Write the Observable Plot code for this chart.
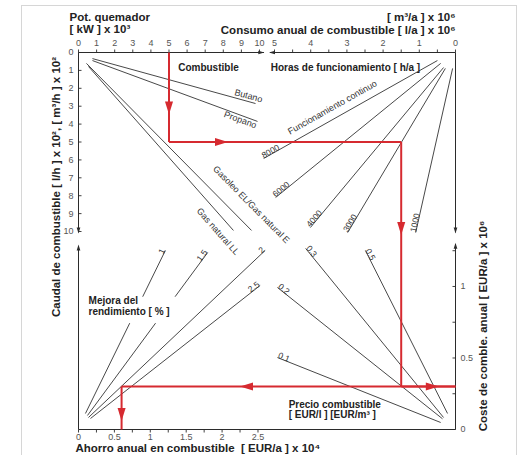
<!DOCTYPE html>
<html>
<head>
<meta charset="utf-8">
<script src="https://cdn.jsdelivr.net/npm/d3@7"></script>
<script src="https://cdn.jsdelivr.net/npm/@observablehq/plot@0.6"></script>
<style>
  html,body{margin:0;padding:0;background:#fff;}
  #wrap{position:relative;width:522px;height:455px;overflow:hidden;}
  #border{position:absolute;left:21px;top:5px;width:496px;height:470px;border:1px solid #d6d6d6;box-sizing:border-box;}
  #chart{position:absolute;left:0;top:0;}
</style>
</head>
<body>
<div id="wrap"><div id="border"></div><div id="chart"></div></div>
<script>
// ---------- axis ticks ----------
const kwTicks = [0,1,2,3,4,5,6,7,8,9,10];               // Pot. quemador [kW] x10^3
const flowTicks = [0,1,2,3,4,5,6,7,8,9,10];             // Caudal [l/h] x10^2
const consTicks = [5,4,3,2,1,0];                        // Consumo anual x10^6
const consMinorTicks = [5,4.5,4,3.5,3,2.5,2,1.5,1,0.5,0];
const costTicks = [0,0.5,1];                            // Coste anual x10^6
const costMinorTicks = [0,0.25,0.5,0.75,1,1.25];
const savTicks = [0,0.5,1,1.5,2,2.5];                   // Ahorro anual x10^4
const savMinorTicks = [0,0.25,0.5,0.75,1,1.25,1.5,1.75,2,2.25,2.5];

// ---------- Combustible lines (kW x10^3, flow x10^2) ----------
const fuelNames = ["Butano","Propano","Gasoleo EL/Gas natural E","Gas natural LL"];
const fuelKw1   = [0.77, 0.77, 0.44, 0.55];
const fuelFlow1 = [0.34, 0.45, 0.61, 0.78];
const fuelKw2   = [9.78, 9.89, 9.56, 8.56];
const fuelFlow2 = [2.85, 3.85, 9.94, 9.94];

// ---------- Horas de funcionamiento lines (consumption x10^6, flow x10^2) ----------
const hours      = [8000, 6000, 4000, 3000, 1000];
const hoursCons1 = [0.50, 0.41, 0.33, 0.28, 0.08];
const hoursFlow1 = [0.45, 0.61, 0.84, 0.89, 0.89];
const hoursCons2 = [5.30, 4.97, 4.01, 2.98, 1.10];
const hoursFlow2 = [5.92, 8.10, 9.78, 10.06, 10.06];

// ---------- Precio combustible lines (consumption x10^6, cost x10^6) ----------
const prices     = ["0.1","0.2","0.3","0.5"];
const priceCons1 = [4.92, 4.92, 4.14, 2.49];
const priceCost1 = [0.503, 0.993, 1.266, 1.252];
const priceCons2 = [0.41, 0.36, 0.33, 0.22];
const priceCost2 = [0.049, 0.075, 0.084, 0.112];

// ---------- Mejora del rendimiento lines (savings x10^4, cost x10^6) ----------
const gains     = ["1","1.5","2","2.5"];
const gainSav1  = [0.097, 0.125, 0.139, 0.167];
const gainCost1 = [0.112, 0.098, 0.084, 0.077];
const gainSav2  = [1.21, 1.80, 2.60, 2.53];
const gainCost2 = [1.252, 1.238, 1.252, 1.007];

// ---------- worked example (red path) ----------
const exKw = 5, exFlow = 5, exCons = 1.5, exCost = 0.3, exSav = 0.6;

// ---------- scales ----------
const FONT = "'Liberation Sans', Arial, sans-serif";
const W = 522, H = 455, mL = 78, mR = 67, mT = 52, mB = 26;
const xDomain = [0, 20.83];   // primary x: burner power
const yDomain = [0, 21.06];   // primary y: fuel flow (downwards)
const consToX = d3.scaleLinear([0, 5], [20.83, 10.83]);
const costToY = d3.scaleLinear([0, 1], [21.06, 13.07]);
const savToX  = d3.scaleLinear([0, 2.5], [0, 9.917]);
const px = d3.scaleLinear(xDomain, [mL, W - mR]);
const py = d3.scaleLinear(yDomain, [mT, H - mB]);
const ang = (a, b) => Math.atan2(py(b[1]) - py(a[1]), px(b[0]) - px(a[0])) * 180 / Math.PI;

const fuelSegs = fuelNames.map((name, i) => ({name, a: [fuelKw1[i], fuelFlow1[i]], b: [fuelKw2[i], fuelFlow2[i]]}));
const hourSegs = hours.map((h, i) => ({name: String(h), a: [consToX(hoursCons1[i]), hoursFlow1[i]], b: [consToX(hoursCons2[i]), hoursFlow2[i]]}));
const priceSegs = prices.map((p, i) => ({name: p, a: [consToX(priceCons1[i]), costToY(priceCost1[i])], b: [consToX(priceCons2[i]), costToY(priceCost2[i])]}));
const gainSegs = gains.map((g, i) => ({name: g, a: [savToX(gainSav1[i]), costToY(gainCost1[i])], b: [savToX(gainSav2[i]), costToY(gainCost2[i])]}));
const allSegs = [...fuelSegs, ...hourSegs, ...priceSegs, ...gainSegs];

// axis lines (with breaks)
const axisLines = [
  {x1: 0, y1: 0, x2: 10.25, y2: 0},
  {x1: consToX(5.12), y1: 0, x2: consToX(0), y2: 0},
  {x1: 0, y1: 0, x2: 0, y2: 10.05},
  {x1: 0, y1: 10.8, x2: 0, y2: costToY(0)},
  {x1: consToX(0), y1: 0, x2: consToX(0), y2: 10.05},
  {x1: consToX(0), y1: 10.7, x2: consToX(0), y2: costToY(0)},
  {x1: 0, y1: costToY(0), x2: consToX(0), y2: costToY(0)}
];
const axisArrows = [
  {x: 10.1, y: 0, r: 90},
  {x: consToX(5.07), y: 0, r: -90},
  {x: 0, y: 9.95, r: 180},
  {x: 0, y: 10.9, r: 0},
  {x: consToX(0), y: 9.95, r: 180},
  {x: consToX(0), y: 10.8, r: 0}
];

// red path
const red = "#d62a30";
const redSegs = [
  {x1: exKw, y1: 0, x2: exKw, y2: exFlow},
  {x1: exKw, y1: exFlow, x2: consToX(exCons), y2: exFlow},
  {x1: consToX(exCons), y1: exFlow, x2: consToX(exCons), y2: costToY(exCost)},
  {x1: consToX(exCons), y1: costToY(exCost), x2: consToX(0), y2: costToY(exCost)},
  {x1: consToX(0), y1: costToY(exCost), x2: savToX(exSav), y2: costToY(exCost)},
  {x1: savToX(exSav), y1: costToY(exCost), x2: savToX(exSav), y2: costToY(0)}
];
const redArrows = [
  {x: exKw, y: 3.1, r: 180},
  {x: 7.9, y: exFlow, r: 90},
  {x: consToX(exCons), y: 9.83, r: 180},
  {x: consToX(0.64), y: costToY(exCost), r: 90},
  {x: savToX(2.34), y: costToY(exCost), r: -90},
  {x: savToX(exSav), y: costToY(0.105), r: 180}
];

const tickSym = {draw(ctx, size) { const r = Math.sqrt(size / Math.PI); ctx.moveTo(0, 0); ctx.lineTo(0, -r); }};
const arrowSym = {draw(ctx, size) { const r = Math.sqrt(size / Math.PI); ctx.moveTo(0, -r); ctx.lineTo(0.62 * r, r); ctx.lineTo(-0.62 * r, r); ctx.closePath(); }};

const ink = "#2b2b2b", tickInk = "#555";
const tk = {r: 3, symbol: tickSym, stroke: ink, fill: "none", strokeWidth: 0.9};
const tl = {fontSize: 9, fill: tickInk, lineAnchor: "middle"};
const titleStyle = {fontSize: 11.5, fill: "#222", fontWeight: 600, lineAnchor: "middle"};

const plot = Plot.plot({
  width: W, height: H,
  marginLeft: mL, marginRight: mR, marginTop: mT, marginBottom: mB,
  x: {domain: xDomain, axis: null},
  y: {domain: yDomain, reverse: true, axis: null},
  style: {background: "none", fontFamily: FONT, overflow: "visible"},
  marks: [
    // axes
    Plot.link(axisLines, {x1: "x1", y1: "y1", x2: "x2", y2: "y2", stroke: ink, strokeWidth: 1}),
    Plot.dot(axisArrows, {x: "x", y: "y", rotate: "r", r: 3, symbol: arrowSym, fill: ink, stroke: "none"}),
    Plot.dot(kwTicks, {x: d => d, y: 0, rotate: 0, ...tk}),
    Plot.dot(consMinorTicks, {x: d => consToX(d), y: 0, rotate: 0, ...tk}),
    Plot.dot(flowTicks, {x: 0, y: d => d, rotate: 90, ...tk}),
    Plot.dot(costMinorTicks, {x: consToX(0), y: d => costToY(d), rotate: -90, ...tk}),
    Plot.dot(savMinorTicks, {x: d => savToX(d), y: costToY(0), rotate: 180, ...tk}),
    Plot.text(kwTicks, {x: d => d, y: 0, dy: -9, text: d => String(d), ...tl}),
    Plot.text(consTicks, {x: d => consToX(d), y: 0, dy: -9, text: d => String(d), ...tl}),
    Plot.text(flowTicks, {x: 0, y: d => d, dx: -5, textAnchor: "end", text: d => String(d), ...tl}),
    Plot.text(costTicks, {x: consToX(0), y: d => costToY(d), dx: 5, textAnchor: "start", text: d => String(d), ...tl}),
    Plot.text(savTicks, {x: d => savToX(d), y: costToY(0), dy: 8, text: d => String(d), ...tl}),

    // axis titles
    Plot.text(["Pot. quemador"], {text: d => d, frameAnchor: "top-left", textAnchor: "start", dx: -9, dy: -35, ...titleStyle}),
    Plot.text(["[ kW ] x 10³"], {text: d => d, frameAnchor: "top-left", textAnchor: "start", dx: -9, dy: -23, ...titleStyle}),
    Plot.text(["[ m³/a ] x 10⁶"], {text: d => d, frameAnchor: "top-right", textAnchor: "end", dy: -35, ...titleStyle}),
    Plot.text(["Consumo anual de combustible [ l/a ] x 10⁶"], {text: d => d, frameAnchor: "top-right", textAnchor: "end", dy: -22, ...titleStyle}),
    Plot.text(["Caudal de combustible [ l/h ] x 10², [ m³/h ] x 10²"], {text: d => d, frameAnchor: "left", textAnchor: "middle", rotate: -90, dx: -22, dy: -54, ...titleStyle}),
    Plot.text(["Coste de comble. anual [ EUR/a ] x 10⁶"], {text: d => d, frameAnchor: "right", textAnchor: "middle", rotate: -90, dx: 28, dy: 85, ...titleStyle}),
    Plot.text(["Ahorro anual en combustible  [ EUR/a ] x 10⁴"], {text: d => d, frameAnchor: "bottom-left", textAnchor: "start", dx: -3, dy: 19, ...titleStyle}),

    // nomogram lines
    Plot.link(allSegs, {x1: d => d.a[0], y1: d => d.a[1], x2: d => d.b[0], y2: d => d.b[1], stroke: "#333", strokeWidth: 0.9}),

    // label box (breaks the efficiency lines)
    Plot.rect([0], {x1: savToX(0.10), x2: savToX(1.37), y1: costToY(0.925), y2: costToY(0.74), fill: "white"}),

    // group labels
    Plot.text(["Combustible"], {text: d => d, x: 7.18, y: 0.84, fontSize: 10, fontWeight: 600, fill: "#222"}),
    Plot.text(["Horas de funcionamiento [ h/a ]"], {text: d => d, x: consToX(3.04), y: 0.84, fontSize: 10, fontWeight: 600, fill: "#222"}),
    Plot.text(["Mejora del\nrendimiento [ % ]"], {text: d => d, x: savToX(0.14), y: costToY(0.93), textAnchor: "start", lineAnchor: "top", lineHeight: 1.1, fontSize: 10, fontWeight: 600, fill: "#222"}),
    Plot.text(["Precio combustible\n[ EUR/l ] [EUR/m³ ]"], {text: d => d, x: consToX(4.61), y: costToY(0.205), textAnchor: "start", lineAnchor: "top", lineHeight: 1.05, fontSize: 10, fontWeight: 600, fill: "#222"}),

    // line labels
    Plot.text(hourSegs, {x: d => d.b[0], y: d => d.b[1], text: "name", rotate: d => ang(d.b, d.a), textAnchor: "start", lineAnchor: "bottom", fontSize: 8.5, fill: "#333"}),
    Plot.text(priceSegs, {x: d => d.a[0], y: d => d.a[1], text: "name", rotate: d => ang(d.a, d.b), textAnchor: "start", lineAnchor: "bottom", fontSize: 8.5, fill: "#333"}),
    Plot.text(gainSegs, {x: d => d.b[0], y: d => d.b[1], text: "name", rotate: d => ang(d.a, d.b), textAnchor: "end", lineAnchor: "bottom", fontSize: 8.5, fill: "#333"}),
    Plot.text([fuelSegs[0]], {x: d => d.b[0], y: d => d.b[1], text: "name", rotate: d => ang(d.a, d.b), textAnchor: "end", lineAnchor: "bottom", dx: 6, dy: -1, fontSize: 9, fill: "#333"}),
    Plot.text([fuelSegs[1]], {x: d => d.b[0], y: d => d.b[1], text: "name", rotate: d => ang(d.a, d.b), textAnchor: "end", lineAnchor: "top", dy: 1, fontSize: 9, fill: "#333"}),
    Plot.text([fuelSegs[2]], {x: 9.55, y: 8.5, text: "name", rotate: d => ang(d.a, d.b), fontSize: 9, fill: "#333"}),
    Plot.text([fuelSegs[3]], {x: 7.7, y: 10.0, text: "name", rotate: d => ang(d.a, d.b), fontSize: 9, fill: "#333"}),
    Plot.text([hourSegs[0]], {x: consToX(3.4), y: 3.07, text: () => "Funcionamiento continuo", rotate: d => ang(d.b, d.a), fontSize: 9, fill: "#333"}),

    // red worked example
    Plot.link(redSegs, {x1: "x1", y1: "y1", x2: "x2", y2: "y2", stroke: red, strokeWidth: 2}),
    Plot.dot(redArrows, {x: "x", y: "y", rotate: "r", r: 6.5, symbol: arrowSym, fill: red, stroke: "none"})
  ]
});
document.getElementById("chart").append(plot);
</script>
</body>
</html>
